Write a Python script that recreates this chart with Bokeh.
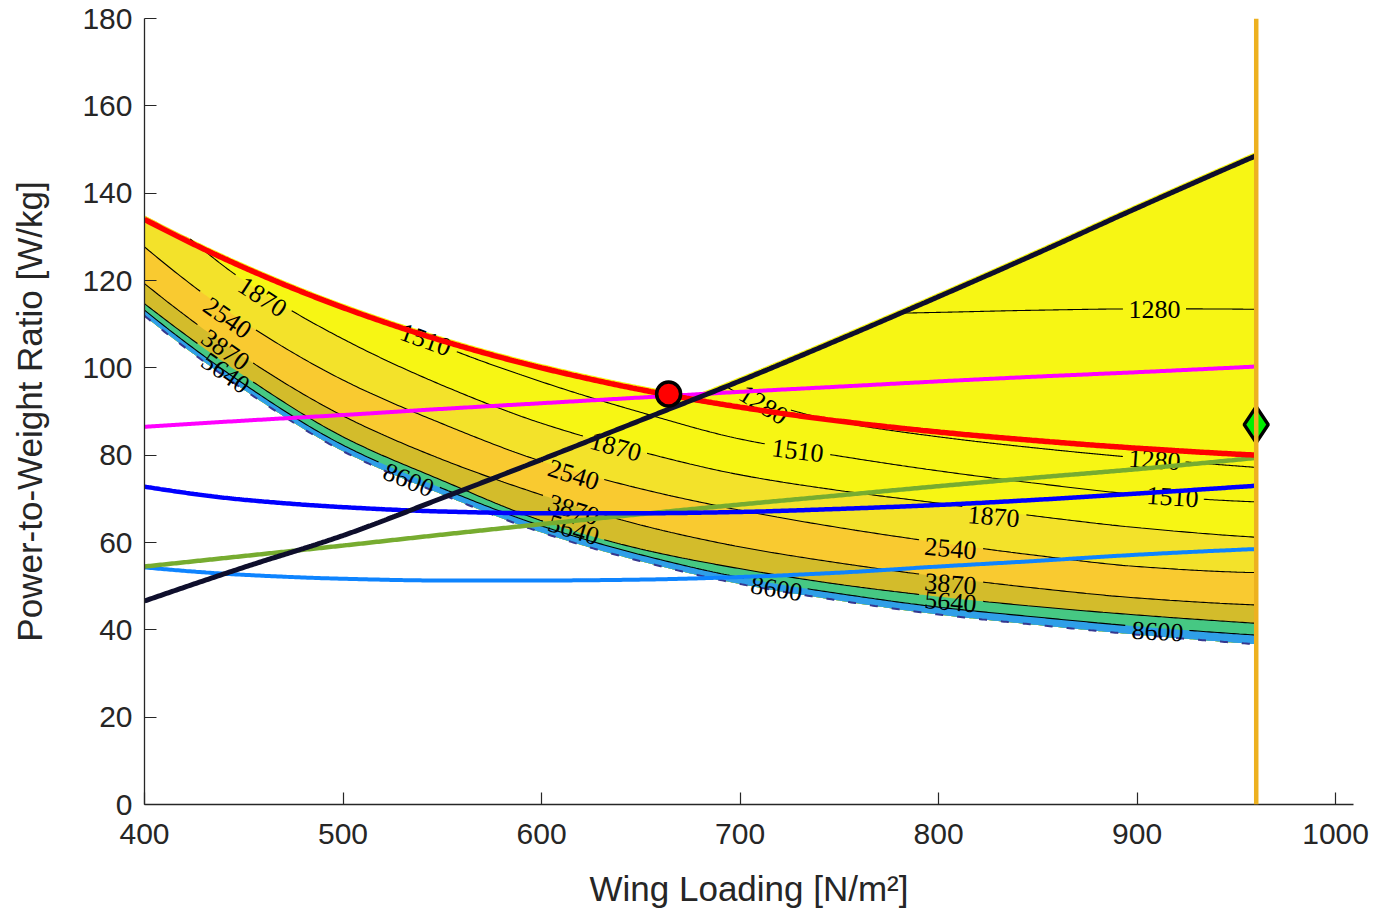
import numpy as np
from bokeh.plotting import figure
from bokeh.models import Range1d, FixedTicker, Span
from bokeh.core.properties import value
from bokeh.embed import file_html
from bokeh.resources import INLINE

# ---------------- data ----------------
wing_loading = [400, 450, 500, 550, 600, 650, 700, 750, 800, 850, 900, 960]

pw_red = [134.0, 123.0, 113.8, 106.2, 100.0, 95.0, 91.0, 87.8, 85.3, 83.3, 81.6, 80.0]
pw_black = [46.6, 54.3, 61.6, 70.2, 79.0, 88.0, 97.0, 106.5, 116.3, 126.3, 136.6, 148.6]
pw_magenta = [86.5, 87.9, 89.2, 90.6, 91.9, 93.2, 94.5, 95.7, 96.9, 98.0, 99.0, 100.3]
pw_blue = [72.8, 69.8, 68.1, 67.1, 66.7, 66.7, 67.0, 67.7, 68.6, 69.8, 71.2, 73.0]
pw_green = [54.5, 56.9, 59.3, 61.8, 64.2, 66.5, 68.7, 70.8, 72.9, 74.9, 76.8, 79.4]
pw_lightblue = [54.3, 52.6, 51.7, 51.3, 51.3, 51.5, 52.1, 53.1, 54.5, 55.8, 57.2, 58.5]

# contour lines of the filled map
c1280_upper_x = [779, 800, 850, 900, 960]
c1280_upper_y = [112.5, 112.7, 113.2, 113.5, 113.4]
c1280_lower_x = [692, 700, 725, 750, 800, 850, 900, 960]
c1280_lower_y = [96.0, 94.0, 90.4, 87.6, 84.2, 81.6, 79.4, 77.2]
c1510_x = [521, 550, 600, 650, 700, 750, 800, 850, 900, 960]
c1510_y = [110.8, 105.0, 96.8, 89.8, 83.7, 79.8, 76.4, 73.5, 71.0, 69.3]
c1870_x = [423, 450, 500, 550, 600, 650, 700, 750, 800, 850, 900, 960]
c1870_y = [129.5, 120.0, 106.6, 96.0, 87.3, 80.8, 75.5, 71.9, 69.0, 66.0, 63.4, 61.2]
c2540_y = [127.7, 110.5, 97.2, 87.2, 78.6, 72.3, 67.4, 63.4, 60.0, 57.0, 54.5, 53.1]
c3870_y = [119.3, 102.5, 89.0, 79.0, 70.9, 64.0, 59.0, 55.3, 52.2, 49.5, 47.3, 45.7]
c5640_y = [114.7, 98.2, 84.2, 74.2, 65.0, 58.5, 54.0, 50.4, 47.6, 45.3, 43.4, 41.5]
c8600_y = [113.2, 96.3, 82.3, 72.4, 63.8, 57.2, 52.0, 48.3, 45.2, 42.9, 40.8, 38.8]
map_bottom_y = [112.4, 95.5, 81.4, 71.5, 62.8, 56.2, 51.0, 47.2, 44.0, 41.6, 39.4, 37.2]

# contour labels
lab_text = ["1870", "2540", "3870", "5640", "1510", "8600", "1280",
            "1870", "2540", "3870", "5640", "1510", "8600",
            "1280", "1280", "1510", "1870", "2540", "3870", "5640", "8600"]
lab_line = ["c1870", "c2540", "c3870", "c5640", "c1510", "c8600", "c1280_lower",
            "c1870", "c2540", "c3870", "c5640", "c1510", "c8600",
            "c1280_upper", "c1280_lower", "c1510", "c1870", "c2540", "c3870", "c5640", "c8600"]
lab_x = [459.4, 441.8, 440.8, 440.8, 541.6, 533.0, 711.8,
         637.3, 616.1, 616.1, 616.1, 729.0, 718.4,
         908.8, 908.8, 917.9, 827.7, 806.0, 806.0, 806.0, 910.3]
lab_y = [116.2, 111.4, 104.1, 98.8, 106.4, 74.3, 91.5,
         81.9, 75.5, 67.5, 62.9, 81.0, 49.4,
         113.4, 78.9, 70.4, 65.9, 58.6, 50.5, 46.4, 39.6]
lab_angle = [-33, -35, -35, -35, -20, -22, -32,
             -15, -17, -17, -17, -7, -9,
             0, -4, -4, -5, -5, -5, -5, -3]

design_ws = [664.0]
design_pw = [94.0]
max_ws = 960
max_point_pw = [87.0]

x_ticks = [400, 500, 600, 700, 800, 900, 1000]
y_ticks = [0, 20, 40, 60, 80, 100, 120, 140, 160, 180]
x_lim = (400, 1009)
y_lim = (0, 180)


# ---------------- smooth drawing of the read points (monotone cubic) ----------------
def pchip(x, y, xq):
    x = np.asarray(x, float)
    y = np.asarray(y, float)
    xq = np.asarray(xq, float)
    h = np.diff(x)
    d = np.diff(y) / h
    n = len(x)
    m = np.zeros(n)
    for k in range(1, n - 1):
        if d[k - 1] * d[k] > 0:
            w1 = 2 * h[k] + h[k - 1]
            w2 = h[k] + 2 * h[k - 1]
            m[k] = (w1 + w2) / (w1 / d[k - 1] + w2 / d[k])
    if n > 2:
        m0 = ((2 * h[0] + h[1]) * d[0] - h[0] * d[1]) / (h[0] + h[1])
        if np.sign(m0) != np.sign(d[0]):
            m0 = 0.0
        m[0] = m0
        me = ((2 * h[-1] + h[-2]) * d[-1] - h[-1] * d[-2]) / (h[-1] + h[-2])
        if np.sign(me) != np.sign(d[-1]):
            me = 0.0
        m[-1] = me
    else:
        m[:] = d[0]
    idx = np.clip(np.searchsorted(x, xq) - 1, 0, n - 2)
    t = (xq - x[idx]) / h[idx]
    h00 = 2 * t**3 - 3 * t**2 + 1
    h10 = t**3 - 2 * t**2 + t
    h01 = -2 * t**3 + 3 * t**2
    h11 = t**3 - t**2
    return h00 * y[idx] + h10 * h[idx] * m[idx] + h01 * y[idx + 1] + h11 * h[idx] * m[idx + 1]


# ---------------- figure ----------------
FRAME_W = 1209
p = figure(width=1373, height=910, output_backend="svg", toolbar_location=None,
           x_range=Range1d(*x_lim), y_range=Range1d(*y_lim),
           min_border_left=144, min_border_right=20, min_border_top=18,
           min_border_bottom=105)
p.outline_line_color = None
p.xgrid.visible = False
p.ygrid.visible = False
p.background_fill_color = "white"

xx = np.linspace(wing_loading[0], wing_loading[-1], 561)
red_s = pchip(wing_loading, pw_red, xx)
black_s = pchip(wing_loading, pw_black, xx)
top_s = np.maximum(red_s, black_s) + 0.9
bottom_s = pchip(wing_loading, map_bottom_y, xx) - 0.5


def band(upper_y, color):
    px = list(xx) + list(xx[::-1])
    py = list(upper_y) + list(bottom_s[::-1])
    p.patch(px, py, fill_color=color, line_color=None)


c1870_full = np.where(xx < c1870_x[0], top_s,
                      pchip(c1870_x, c1870_y, np.clip(xx, c1870_x[0], None)))
band(top_s, "#F7F614")
band(np.minimum(c1870_full, top_s), "#F3E22A")
band(pchip(wing_loading, c2540_y, xx), "#F9CA30")
band(pchip(wing_loading, c3870_y, xx), "#D3BC2B")
band(pchip(wing_loading, c5640_y, xx), "#46C883")
band(pchip(wing_loading, c8600_y, xx), "#2F9FE8")
p.line(xx, bottom_s, line_color="#35378F", line_width=2, line_dash="8 14")

# contour lines with gaps at labels
lines = {
    "c1280_upper": (c1280_upper_x, c1280_upper_y),
    "c1280_lower": (c1280_lower_x, c1280_lower_y),
    "c1510": (c1510_x, c1510_y),
    "c1870": (c1870_x, c1870_y),
    "c2540": (wing_loading, c2540_y),
    "c3870": (wing_loading, c3870_y),
    "c5640": (wing_loading, c5640_y),
    "c8600": (wing_loading, c8600_y),
}
px_per_x = FRAME_W / (x_lim[1] - x_lim[0])
LABEL_W = 52.0

mx, my = [], []
for key, (lx, ly) in lines.items():
    q = np.linspace(lx[0], lx[-1], 400)
    qy = pchip(lx, ly, q)
    keep = np.ones(len(q), bool)
    for ln, cx, ang in zip(lab_line, lab_x, lab_angle):
        if ln == key:
            hw = (LABEL_W / 2 * np.cos(np.radians(ang)) + 5) / px_per_x
            keep &= ~((q > cx - hw) & (q < cx + hw))
    seg_x, seg_y = [], []
    for xi, yi, k in zip(q, qy, keep):
        if k:
            seg_x.append(xi)
            seg_y.append(yi)
        elif seg_x:
            mx.append(seg_x)
            my.append(seg_y)
            seg_x, seg_y = [], []
    if len(seg_x) > 1:
        mx.append(seg_x)
        my.append(seg_y)
p.multi_line(mx, my, line_color="black", line_width=1.1)

p.text(lab_x, lab_y, text=lab_text, angle=lab_angle, angle_units="deg",
       text_font=value("Liberation Serif"), text_font_size="26px",
       text_color="black", text_align="center", text_baseline="middle")

# constraint curves
p.line(xx, pchip(wing_loading, pw_lightblue, xx), line_color="#0E84FF", line_width=4)
p.line(xx, pchip(wing_loading, pw_green, xx), line_color="#77AC30", line_width=4.5)
p.line(xx, pchip(wing_loading, pw_blue, xx), line_color="#0000FF", line_width=4.5)
p.line(xx, pchip(wing_loading, pw_magenta, xx), line_color="#FF00FF", line_width=4)
p.line(xx, red_s, line_color="#FF0000", line_width=5.5)
p.line(xx, black_s, line_color="#0E0E2C", line_width=5)

p.add_layout(Span(location=max_ws, dimension="height", line_color="#EDB120",
                  line_width=4.5))

p.scatter(design_ws, design_pw, marker="circle", size=24, fill_color="#FF0000",
          line_color="black", line_width=3.5)
p.scatter([max_ws], max_point_pw, marker="diamond", size=36, fill_color="#00F000",
          line_color="black", line_width=3.5)

# axes
p.xaxis.ticker = FixedTicker(ticks=x_ticks)
p.yaxis.ticker = FixedTicker(ticks=y_ticks)
p.xaxis.axis_label = "Wing Loading [N/m²]"
p.yaxis.axis_label = "Power-to-Weight Ratio [W/kg]"
for ax in (p.xaxis[0], p.yaxis[0]):
    ax.major_tick_in = 12
    ax.major_tick_out = 0
    ax.minor_tick_line_color = None
    ax.major_tick_line_color = "#262626"
    ax.major_tick_line_width = 1.2
    ax.axis_line_color = "#262626"
    ax.axis_line_width = 1.3
    ax.major_label_text_font = "Liberation Sans"
    ax.major_label_text_font_size = "30px"
    ax.major_label_text_color = "#262626"
    ax.major_label_standoff = 12
    ax.axis_label_text_font = "Liberation Sans"
    ax.axis_label_text_font_size = "35px"
    ax.axis_label_text_font_style = "normal"
    ax.axis_label_text_color = "#262626"
p.xaxis.major_label_standoff = 19
p.xaxis.axis_label_standoff = 22
p.yaxis.axis_label_standoff = 30

open("out.html", "w").write(file_html(p, INLINE))
